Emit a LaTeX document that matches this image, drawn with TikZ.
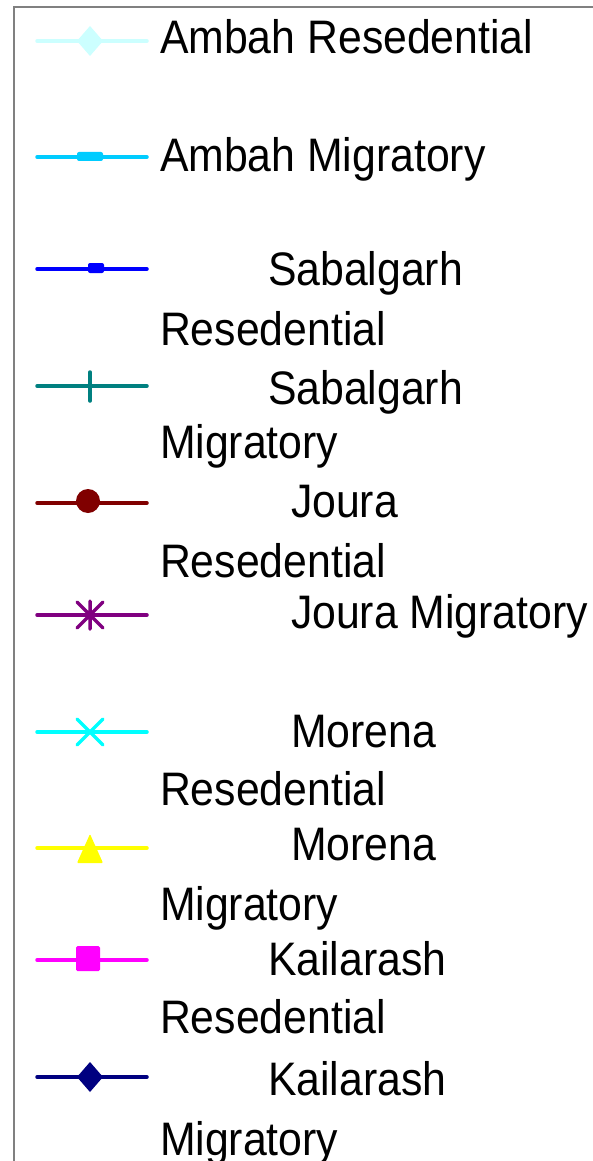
\documentclass[tikz,border=0pt]{standalone}
\usepackage{fontspec}
\setmainfont[FakeStretch=0.91]{Liberation Sans}
\definecolor{cA}{HTML}{CCFFFF}
\definecolor{cB}{HTML}{00CCFF}
\definecolor{cC}{HTML}{0000FF}
\definecolor{cD}{HTML}{008080}
\definecolor{cE}{HTML}{800000}
\definecolor{cF}{HTML}{800080}
\definecolor{cG}{HTML}{00FFFF}
\definecolor{cH}{HTML}{FFFF00}
\definecolor{cI}{HTML}{FF00FF}
\definecolor{cJ}{HTML}{000080}
\definecolor{frame}{HTML}{808080}
\begin{document}
\begin{tikzpicture}[x=1pt,y=-1pt,
  lbl/.style={anchor=base west, inner sep=0pt, outer sep=0pt, font=\fontsize{47}{56}\selectfont},
  ser/.style={line width=3.5pt, line cap=round},
  mk/.style={line width=3.5pt, line cap=round}]
\useasboundingbox (0,0) rectangle (592,1161);
\fill[white] (0,0) rectangle (592,1161);
% frame
\coordinate (fb) at (14,1165);
\coordinate (fc) at (14,7);
\coordinate (fr) at (596,7);
\draw[frame, line width=1.5pt] (fb) -- (fc) -- (fr);
% row 1
\coordinate (a1) at (37,41); \coordinate (b1) at (147,41);
\draw[ser, cA] (a1) -- (b1);
\fill[cA] (90,26) -- (103,41) -- (90,56) -- (77,41) -- cycle;
\node[lbl] (t1) at (160,54) {Ambah Resedential};
% row 2
\coordinate (a2) at (37,157); \coordinate (b2) at (147,157);
\draw[ser, cB] (a2) -- (b2);
\fill[cB, rounded corners=2pt] (77,152) rectangle (103,161);
\node[lbl] (t2) at (160,172) {Ambah Migratory};
% row 3
\coordinate (a3) at (37,269); \coordinate (b3) at (147,269);
\draw[ser, cC] (a3) -- (b3);
\fill[cC, rounded corners=2pt] (88,263) rectangle (104,273);
\node[lbl] (t3) at (268,285) {Sabalgarh};
\node[lbl] (t3b) at (160,345) {Resedential};
% row 4
\coordinate (a4) at (37,386); \coordinate (b4) at (147,386);
\draw[ser, cD] (a4) -- (b4);
\draw[mk, cD] (90,372) -- (90,401);
\node[lbl] (t4) at (268,404) {Sabalgarh};
\node[lbl] (t4b) at (160,458) {Migratory};
% row 5
\coordinate (a5) at (37,503); \coordinate (b5) at (147,503);
\draw[ser, cE] (a5) -- (b5);
\fill[cE] (88,501) circle (12pt);
\node[lbl] (t5) at (291,517) {Joura};
\node[lbl] (t5b) at (160,577) {Resedential};
% row 6
\coordinate (a6) at (37,615); \coordinate (b6) at (147,615);
\draw[ser, cF] (a6) -- (b6);
\draw[mk, cF] (90,601) -- (90,629) (77,602) -- (103,628) (77,628) -- (103,602);
\node[lbl] (t6) at (291,628) {Joura Migratory};
% row 7
\coordinate (a7) at (37,732); \coordinate (b7) at (147,732);
\draw[ser, cG] (a7) -- (b7);
\draw[mk, cG] (77,719) -- (103,745) (77,745) -- (103,719);
\node[lbl] (t7) at (291,747) {Morena};
\node[lbl] (t7b) at (160,805) {Resedential};
% row 8
\coordinate (a8) at (37,848); \coordinate (b8) at (147,848);
\draw[ser, cH] (a8) -- (b8);
\fill[cH, rounded corners=1pt] (90,834) -- (103,863) -- (77,863) -- cycle;
\node[lbl] (t8) at (291,860) {Morena};
\node[lbl] (t8b) at (160,920) {Migratory};
% row 9
\coordinate (a9) at (37,960); \coordinate (b9) at (147,960);
\draw[ser, cI] (a9) -- (b9);
\fill[cI, rounded corners=1.5pt] (76,946) rectangle (100,971);
\node[lbl] (t9) at (268,975) {Kailarash};
\node[lbl] (t9b) at (160,1033) {Resedential};
% row 10
\coordinate (a10) at (37,1077); \coordinate (b10) at (147,1077);
\draw[ser, cJ] (a10) -- (b10);
\fill[cJ] (90,1062) -- (103,1077) -- (90,1092) -- (77,1077) -- cycle;
\node[lbl] (t10) at (268,1095) {Kailarash};
\node[lbl] (t10b) at (160,1155) {Migratory};
\end{tikzpicture}
\end{document}
